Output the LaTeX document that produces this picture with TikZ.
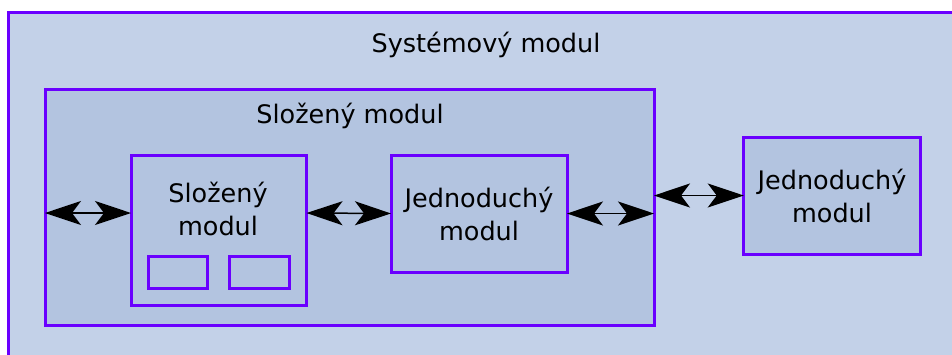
\documentclass[tikz,border=0pt]{standalone}
\usepackage{fontspec}
\setmainfont{DejaVu Sans}
\usepackage{tikz}
\usetikzlibrary{calc, positioning}
\usetikzlibrary{arrows.meta}

\definecolor{SysFill}{HTML}{C3D1E8}
\definecolor{ModFill}{HTML}{B3C4E0}
\definecolor{ModLine}{HTML}{6A00FF}

\tikzset{
    modbox/.style={draw=ModLine, line width=3pt, inner sep=0pt, outer sep=0pt, align=center},
    obal/.style={modbox, fill=SysFill},
    modul/.style={modbox, fill=ModFill},
    vazba/.style={{Stealth[length=36pt, width=24pt, inset=9pt]}-{Stealth[length=36pt, width=24pt, inset=9pt]}, line width=1.5pt, black}
}

\begin{document}
\begin{tikzpicture}[x=1pt, y=-1pt, font=\fontsize{25.5}{33}\selectfont]
            \clip (0,0) rectangle (952,354);

            \node[obal, anchor=north west, minimum width=980pt, minimum height=380pt] (sys) at (8,12) {};
            \node[anchor=base] (systxt) at (486,52) {Systémový modul};

            \node[modul, minimum width=609pt, minimum height=236pt] (komp) at (349.5,207) {};
            \node[anchor=base] (komptxt) at (350,123) {Složený modul};

            \node[modul, minimum width=175.5pt, minimum height=150pt] (slo) at (218.75,230) {};
            \node[align=center] (slotxt) at (218,209) {Složený\\modul};
            \node[modul, minimum width=59pt, minimum height=32pt] (pod1) at (177.5,272) {};
            \node[modul, minimum width=60pt, minimum height=32pt] (pod2) at (259,272) {};

            \node[modul, minimum width=176pt, minimum height=117pt] (jed) at (479,213.5) {Jednoduchý\\modul};
            \node[modul, minimum width=176.5pt, minimum height=117pt] (jed2) at (832,195.5) {Jednoduchý\\modul};

            \coordinate (hl) at (0,213);
            \draw[vazba] (komp.west |- hl) -- (slo.west |- hl);
            \draw[vazba] (slo.east |- hl) -- (jed.west);
            \draw[vazba] (jed.east) -- (komp.east |- jed.east);
            \draw[vazba] (komp.east |- jed2.west) -- (jed2.west);
        \end{tikzpicture}
\end{document}
